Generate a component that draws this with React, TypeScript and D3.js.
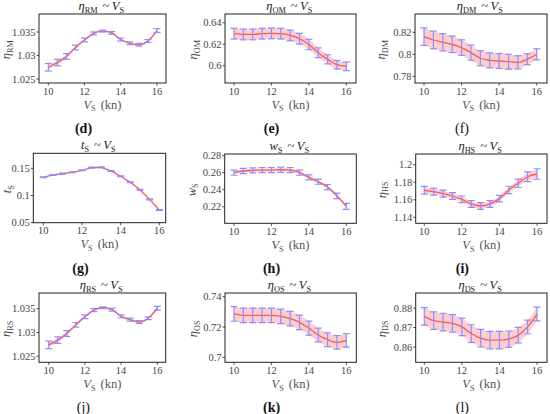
import React from "react";
import * as d3 from "d3";

// ship speed (kn)
const vs = [10, 10.5, 11, 11.5, 12, 12.5, 13, 13.5, 14, 14.5, 15, 15.5, 16];

const etaRM = [1.0275, 1.0285, 1.0298, 1.0317, 1.0333, 1.0347, 1.0352, 1.0348, 1.0334, 1.0326, 1.0323, 1.0331, 1.0353];
const etaRMErr = [0.0008, 0.0007, 0.0006, 0.0005, 0.0004, 0.0003, 0.0002, 0.0003, 0.0003, 0.0003, 0.0003, 0.0003, 0.0004];

const etaOM = [0.6298, 0.6291, 0.6291, 0.6298, 0.6301, 0.6298, 0.6282, 0.6251, 0.6198, 0.6121, 0.6059, 0.6009, 0.5994];
const etaOMErr = [0.005, 0.005, 0.005, 0.005, 0.005, 0.005, 0.005, 0.005, 0.0048, 0.0045, 0.0042, 0.004, 0.004];

const etaDM = [0.8161, 0.813, 0.8109, 0.8091, 0.8061, 0.8015, 0.7964, 0.7945, 0.7939, 0.7933, 0.7927, 0.7955, 0.8];
const etaDMErr = [0.008, 0.008, 0.0078, 0.0075, 0.007, 0.0068, 0.0068, 0.0068, 0.0068, 0.0068, 0.006, 0.005, 0.005];

const tS = [0.1334, 0.1377, 0.1402, 0.1426, 0.1463, 0.1512, 0.1518, 0.1451, 0.1353, 0.1242, 0.1107, 0.0929, 0.0733];
const tSErr = [0.0008, 0.0008, 0.0008, 0.0008, 0.0008, 0.0008, 0.0008, 0.0008, 0.0008, 0.0008, 0.0008, 0.0008, 0.0008];

const wS = [0.26, 0.262, 0.2627, 0.2631, 0.2631, 0.2635, 0.2631, 0.26, 0.2545, 0.2494, 0.2431, 0.2327, 0.2204];
const wSErr = [0.003, 0.003, 0.003, 0.003, 0.003, 0.003, 0.003, 0.003, 0.003, 0.003, 0.003, 0.0032, 0.0035];

const etaHS = [1.1708, 1.1693, 1.167, 1.1643, 1.1605, 1.1552, 1.1529, 1.1552, 1.1613, 1.1712, 1.1788, 1.1863, 1.1894];
const etaHSErr = [0.0044, 0.004, 0.004, 0.0038, 0.0038, 0.0038, 0.0038, 0.0038, 0.0038, 0.0042, 0.0048, 0.0055, 0.006];

const etaRS = [1.0274, 1.0284, 1.0298, 1.0316, 1.0333, 1.0347, 1.0352, 1.0348, 1.0334, 1.0327, 1.0322, 1.033, 1.0351];
const etaRSErr = [0.0008, 0.0007, 0.0006, 0.0005, 0.0004, 0.0003, 0.0002, 0.0003, 0.0003, 0.0003, 0.0003, 0.0003, 0.0004];

const etaOS = [0.7286, 0.7277, 0.7277, 0.7277, 0.7277, 0.727, 0.7255, 0.7231, 0.7193, 0.7147, 0.7116, 0.7099, 0.7112];
const etaOSErr = [0.0048, 0.0048, 0.0048, 0.0048, 0.0048, 0.0048, 0.0048, 0.0048, 0.0046, 0.0045, 0.0045, 0.0045, 0.0045];

const etaDS = [0.8757, 0.8735, 0.8728, 0.8721, 0.8703, 0.8669, 0.8645, 0.8635, 0.8635, 0.864, 0.8661, 0.8703, 0.8769];
const etaDSErr = [0.0045, 0.0045, 0.0045, 0.0045, 0.0045, 0.0045, 0.0045, 0.0045, 0.0045, 0.0042, 0.004, 0.0035, 0.0035];

const xTicks = [10, 12, 14, 16];

interface PanelSpec {
  sym: string; // main symbol
  sub: string; // subscript
  tag: string; // sub-figure label
  bold: boolean;
  y: number[];
  err: number[];
  yTicks: number[];
  linear?: boolean;
  bandFrac: number;
  // frame geometry
  box: [number, number, number, number]; // left, top, right, bottom
  x10: number;
  x16: number;
  yPx: [number, number]; // pixel of first and last y tick
  labOff: number;
}

const fmt = (v: number) => String(+v.toFixed(4));

const panels: PanelSpec[] = [
  { sym: "η", sub: "RM", tag: "(d)", bold: true, y: etaRM, err: etaRMErr, yTicks: [1.025, 1.03, 1.035], bandFrac: 0.6,
    box: [39, 14, 166, 83], x10: 48.3, x16: 157, yPx: [79, 32], labOff: 29 },
  { sym: "η", sub: "OM", tag: "(e)", bold: true, y: etaOM, err: etaOMErr, yTicks: [0.6, 0.62, 0.64], bandFrac: 1,
    box: [225, 14, 356, 83], x10: 234, x16: 346.3, yPx: [65.7, 22.7], labOff: 28 },
  { sym: "η", sub: "DM", tag: "(f)", bold: false, y: etaDM, err: etaDMErr, yTicks: [0.78, 0.8, 0.82], bandFrac: 1,
    box: [415, 14, 547, 83], x10: 424, x16: 536.7, yPx: [76.3, 32.3], labOff: 30 },
  { sym: "t", sub: "S", tag: "(g)", bold: true, y: tS, err: tSErr, yTicks: [0.05, 0.1, 0.15], bandFrac: 0.5, linear: true,
    box: [33.3, 153.3, 165.7, 222.7], x10: 43.3, x16: 159.3, yPx: [222.7, 168.3], labOff: 22.5 },
  { sym: "w", sub: "S", tag: "(h)", bold: true, y: wS, err: wSErr, yTicks: [0.22, 0.24, 0.26, 0.28], bandFrac: 0.6,
    box: [224.7, 154, 356.3, 223.3], x10: 234, x16: 346.3, yPx: [206.7, 155.7], labOff: 29 },
  { sym: "η", sub: "HS", tag: "(i)", bold: true, y: etaHS, err: etaHSErr, yTicks: [1.14, 1.16, 1.18, 1.2], bandFrac: 0.8,
    box: [415.7, 154, 547, 223.3], x10: 424.3, x16: 537, yPx: [217.3, 164.7], labOff: 30 },
  { sym: "η", sub: "RS", tag: "(j)", bold: false, y: etaRS, err: etaRSErr, yTicks: [1.025, 1.03, 1.035], bandFrac: 0.6,
    box: [39, 293, 165.7, 362.3], x10: 48.7, x16: 157.3, yPx: [356.3, 308.7], labOff: 29 },
  { sym: "η", sub: "OS", tag: "(k)", bold: true, y: etaOS, err: etaOSErr, yTicks: [0.7, 0.72, 0.74], bandFrac: 1,
    box: [225, 293, 356.3, 362.3], x10: 234, x16: 346.3, yPx: [357.3, 296.7], labOff: 28 },
  { sym: "η", sub: "DS", tag: "(l)", bold: false, y: etaDS, err: etaDSErr, yTicks: [0.86, 0.87, 0.88], bandFrac: 1,
    box: [415.7, 293, 547, 362.3], x10: 424.3, x16: 537, yPx: [347, 308], labOff: 30 },
];

const FONT = "Liberation Serif, Times New Roman, DejaVu Serif, serif";
const LINE = "#ff5656";
const BAR = "#8e8cff";
const BAND = "#fbcfcf";

function Sym({ sym, sub, size }: { sym: string; sub: string; size: number }) {
  const s = size * 0.66;
  return (
    <>
      <tspan fontStyle="italic">{sym}</tspan>
      <tspan fontSize={s} dy={size * 0.22}>{sub}</tspan>
      <tspan dy={-size * 0.22}>{"\u2009"}</tspan>
    </>
  );
}

function Panel({ p }: { p: PanelSpec }) {
  const [l, t, r, b] = p.box;
  const x = d3.scaleLinear().domain([10, 16]).range([p.x10, p.x16]);
  const y = d3
    .scaleLinear()
    .domain([p.yTicks[0], p.yTicks[p.yTicks.length - 1]])
    .range(p.yPx);
  const pts = vs.map((v, i) => ({ v, m: p.y[i], e: p.err[i] }));
  const curve = p.linear ? d3.curveLinear : d3.curveMonotoneX;
  const line = d3
    .line<(typeof pts)[number]>()
    .x((d) => x(d.v))
    .y((d) => y(d.m))
    .curve(curve);
  const area = d3
    .area<(typeof pts)[number]>()
    .x((d) => x(d.v))
    .y0((d) => y(d.m - d.e * p.bandFrac))
    .y1((d) => y(d.m + d.e * p.bandFrac))
    .curve(curve);
  const cx = (l + r) / 2;
  const cy = (t + b) / 2;
  const clipId = `clip-${p.tag.replace(/\W/g, "")}`;
  return (
    <g>
      <defs>
        <clipPath id={clipId}>
          <rect x={l} y={t} width={r - l} height={b - t} />
        </clipPath>
      </defs>
      <g clipPath={`url(#${clipId})`}>
        <path d={area(pts) ?? ""} fill={BAND} />
        <path d={line(pts) ?? ""} fill="none" stroke={LINE} strokeWidth={1.3} />
        {pts.map((d, i) => (
          <g key={i} stroke={BAR} strokeWidth={1.2}>
            <line x1={x(d.v)} x2={x(d.v)} y1={y(d.m - d.e)} y2={y(d.m + d.e)} />
            <line x1={x(d.v) - 3.5} x2={x(d.v) + 3.5} y1={y(d.m - d.e)} y2={y(d.m - d.e)} />
            <line x1={x(d.v) - 3.5} x2={x(d.v) + 3.5} y1={y(d.m + d.e)} y2={y(d.m + d.e)} />
          </g>
        ))}
      </g>
      <rect x={l} y={t} width={r - l} height={b - t} fill="none" stroke="#222" strokeWidth={1} />
      {xTicks.map((v) => (
        <g key={v}>
          <line x1={x(v)} x2={x(v)} y1={b} y2={b + 2.5} stroke="#222" strokeWidth={0.8} />
          <text x={x(v)} y={b + 11.5} fontSize={10.5} textAnchor="middle" fill="#444">
            {v}
          </text>
        </g>
      ))}
      {p.yTicks.map((v) => (
        <g key={v}>
          <line x1={l - 2.5} x2={l} y1={y(v)} y2={y(v)} stroke="#222" strokeWidth={0.8} />
          <text x={l - 3.5} y={y(v) + 3.6} fontSize={10.5} textAnchor="end" fill="#444">
            {fmt(v)}
          </text>
        </g>
      ))}
      <text x={cx} y={t - 4} fontSize={12.5} textAnchor="middle" fill="#222">
        <Sym sym={p.sym} sub={p.sub} size={12.5} />
        <tspan>{"\u2009~\u2009"}</tspan>
        <Sym sym="V" sub="S" size={12.5} />
      </text>
      <text
        transform={`translate(${l - p.labOff},${cy}) rotate(-90)`}
        fontSize={12.5}
        textAnchor="middle"
        fill="#444"
      >
        <Sym sym={p.sym} sub={p.sub} size={12.5} />
      </text>
      <text x={cx} y={b + 25.5} fontSize={12.5} textAnchor="middle" fill="#555">
        <Sym sym="V" sub="S" size={12.5} />
        <tspan>{"\u2009(kn)"}</tspan>
      </text>
      <text
        x={cx - 19}
        y={b + 50}
        fontSize={14}
        fontWeight={p.bold ? "bold" : "normal"}
        textAnchor="middle"
        fill="#111"
      >
        {p.tag}
      </text>
    </g>
  );
}

export default function App() {
  return (
    <svg
      width={550}
      height={414}
      style={{ position: "absolute", left: 0, top: 0, background: "#fff", fontFamily: FONT }}
    >
      {panels.map((p) => (
        <Panel key={p.tag} p={p} />
      ))}
    </svg>
  );
}
